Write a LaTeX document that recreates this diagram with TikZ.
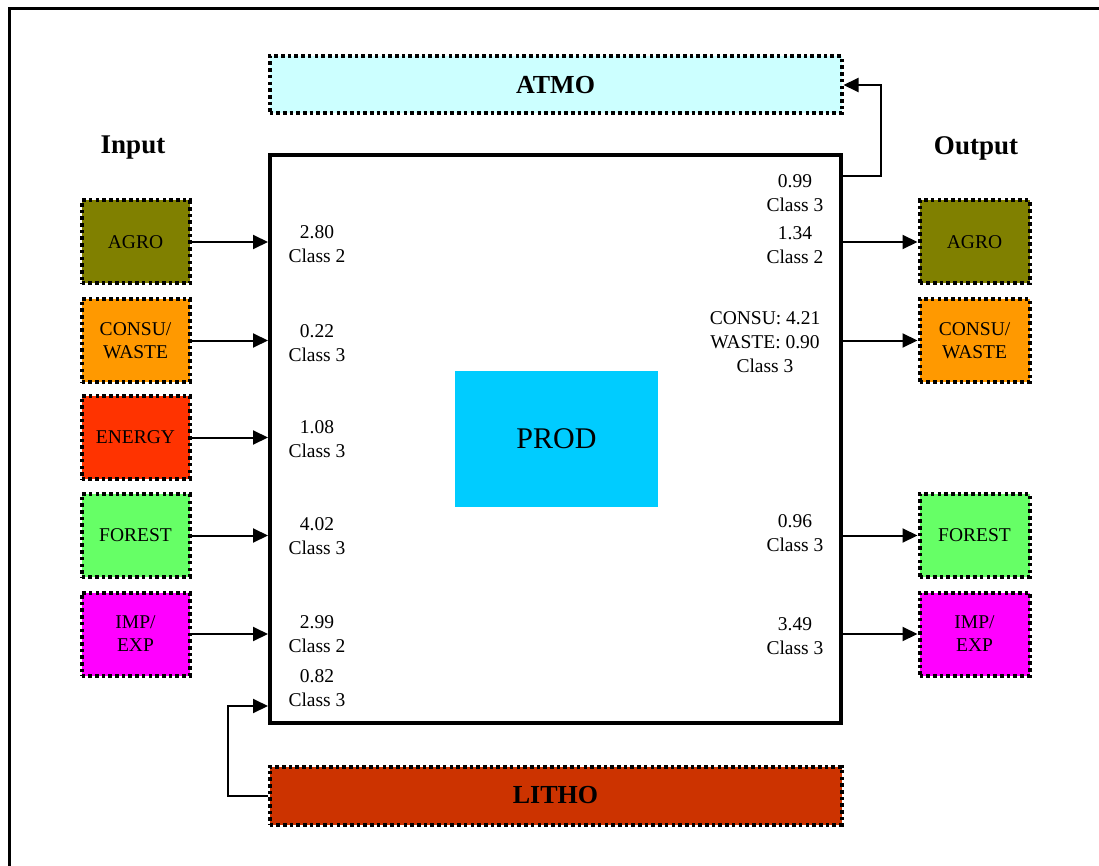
\documentclass[tikz,border=0pt]{standalone}
\usepackage{fontspec}
\setmainfont{Liberation Serif}
\usetikzlibrary{arrows.meta}
\definecolor{cagro}{HTML}{808000}
\definecolor{cconsu}{HTML}{FF9900}
\definecolor{cenergy}{HTML}{FF3300}
\definecolor{cforest}{HTML}{66FF66}
\definecolor{cimp}{HTML}{FF00FF}
\definecolor{catmo}{HTML}{CCFFFF}
\definecolor{cprod}{HTML}{00CCFF}
\definecolor{clitho}{HTML}{CC3300}
\tikzset{
  dotbox/.style={draw, line width=4pt, dash pattern=on 3.6pt off 3.1pt, inner sep=0pt, align=center,
    font=\fontsize{19.5}{23}\selectfont},
  sidebox/.style={dotbox, minimum width=108pt, minimum height=83pt},
  rsidebox/.style={dotbox, minimum width=110pt, minimum height=83pt},
  widebox/.style={dotbox, minimum width=572pt, minimum height=57pt, font=\fontsize{26}{28}\selectfont\bfseries},
  val/.style={inner sep=0pt, align=center, font=\fontsize{19.5}{24}\selectfont},
  head/.style={inner sep=0pt, font=\fontsize{27}{30}\selectfont\bfseries},
  arr/.style={line width=2pt, -{Triangle[length=15pt,width=14pt]}},
  conn/.style={line width=2pt}
}
\begin{document}
\begin{tikzpicture}[x=1pt,y=-1pt]
\useasboundingbox (0,0) rectangle (1099,866);
\fill[white] (0,0) rectangle (1099,866);
% outer frame (cut off at right and bottom)
\draw[line width=3.5pt] (9.5,866) -- (9.5,8.5) -- (1099,8.5);

% main box
\node[draw, line width=4pt, minimum width=571pt, minimum height=568pt, inner sep=0pt] (main) at (555.5,439) {};
\node[fill=cprod, minimum width=203pt, minimum height=136pt, inner sep=0pt, font=\fontsize{30}{32}\selectfont] (prod) at (556.5,439) {PROD};

% top / bottom
\node[widebox, fill=catmo] (atmo) at (555.5,85) {ATMO};
\node[widebox, fill=clitho, minimum height=58pt] (litho) at (555.5,795.5) {LITHO};

% headings
\node[head] (input) at (133,148) {Input};
\node[head] (output) at (976,148) {Output};

% left boxes
\node[sidebox, fill=cagro] (lagro) at (135.5,242) {AGRO};
\node[sidebox, fill=cconsu] (lconsu) at (135.5,340.5) {CONSU/\\WASTE};
\node[sidebox, fill=cenergy] (lenergy) at (135.5,437.5) {ENERGY};
\node[sidebox, fill=cforest] (lforest) at (135.5,535.5) {FOREST};
\node[sidebox, fill=cimp] (limp) at (135.5,634) {IMP/\\EXP};

% right boxes
\node[rsidebox, fill=cagro] (ragro) at (974.5,242) {AGRO};
\node[rsidebox, fill=cconsu] (rconsu) at (974.5,340.5) {CONSU/\\WASTE};
\node[rsidebox, fill=cforest] (rforest) at (974.5,535.5) {FOREST};
\node[rsidebox, fill=cimp] (rimp) at (974.5,634) {IMP/\\EXP};

% left arrows
\draw[arr] (lagro.east) -- (lagro.east -| main.west);
\draw[arr] (lconsu.east) -- (lconsu.east -| main.west);
\draw[arr] (lenergy.east) -- (lenergy.east -| main.west);
\draw[arr] (lforest.east) -- (lforest.east -| main.west);
\draw[arr] (limp.east) -- (limp.east -| main.west);

% right arrows
\draw[arr] (ragro.west -| main.east) -- (ragro.west);
\draw[arr] (rconsu.west -| main.east) -- (rconsu.west);
\draw[arr] (rforest.west -| main.east) -- (rforest.west);
\draw[arr] (rimp.west -| main.east) -- (rimp.west);

% atmo arrow
\coordinate (a1) at (881,176);
\draw[arr] (a1 -| main.east) -- (a1) |- (atmo.east);

% litho arrow
\coordinate (l1) at (228,706);
\draw[arr] (litho.west) -| (l1) -- (l1 -| main.west);

% left values
\node[val] (v1) at (317,244) {2.80\\Class 2};
\node[val] (v2) at (317,343) {0.22\\Class 3};
\node[val] (v3) at (317,439) {1.08\\Class 3};
\node[val] (v4) at (317,536) {4.02\\Class 3};
\node[val] (v5) at (317,634) {2.99\\Class 2};
\node[val] (v6) at (317,688) {0.82\\Class 3};

% right values
\node[val] (w1) at (795,193) {0.99\\Class 3};
\node[val] (w2) at (795,245) {1.34\\Class 2};
\node[val] (w3) at (765,342) {CONSU: 4.21\\WASTE: 0.90\\Class 3};
\node[val] (w4) at (795,533) {0.96\\Class 3};
\node[val] (w5) at (795,636) {3.49\\Class 3};
\end{tikzpicture}
\end{document}
